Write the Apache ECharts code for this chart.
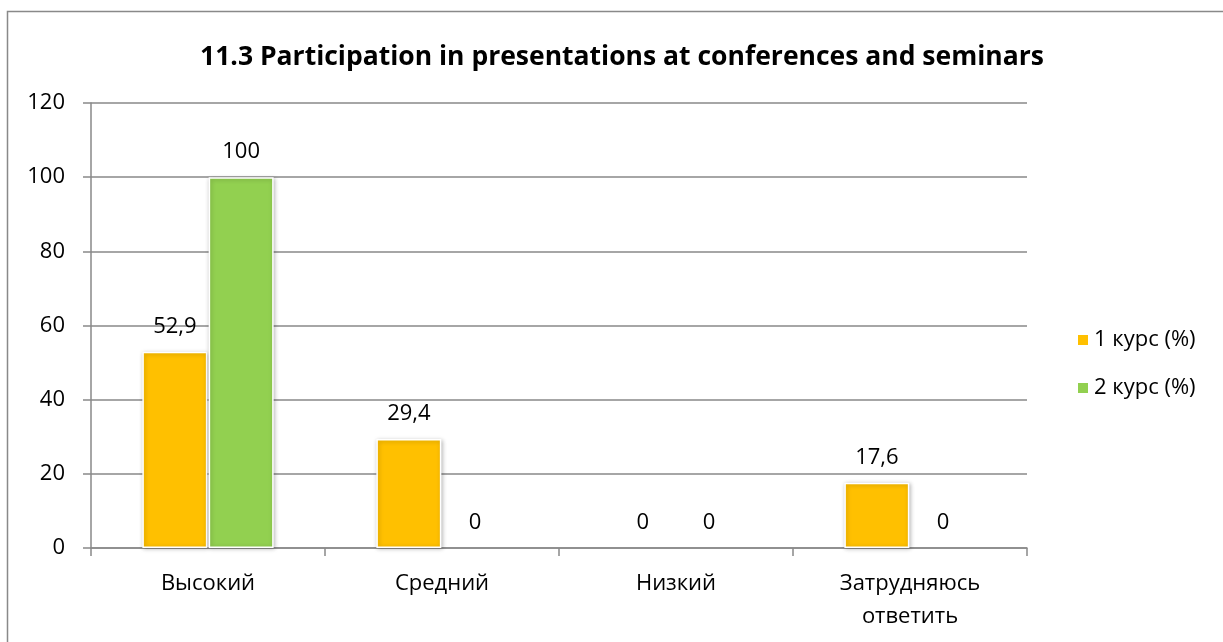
<!DOCTYPE html>
<html lang="ru">
<head>
    <meta charset="UTF-8"/>
    <script src="https://cdn.jsdelivr.net/npm/echarts@6/dist/echarts.min.js"></script>
    <title>11.3</title>
    <style>
        html, body { margin: 0; padding: 0; background: #fff; }
        #chart { width: 1223px; height: 642px; }
    </style>
</head>
<body>
<div id="chart"></div>
<script type="text/javascript">
    // данные
    var categories = ['Высокий', 'Средний', 'Низкий', 'Затрудняюсь\nответить'];
    var kurs1 = [52.9, 29.4, 0, 17.6];
    var kurs2 = [100, 0, 0, 0];
    var seriesNames = ['1 курс (%)', '2 курс (%)'];
    var yTicks = [0, 20, 40, 60, 80, 100, 120];

    var fontName = '"Open Sans", sans-serif';
    var fs = 22;

    function commaLabel(p) {
        return String(p.value).replace('.', ',');
    }

    // нулевые столбцы без рамки и тени
    function toBarData(arr) {
        return arr.map(function (v) {
            if (v === 0) {
                return { value: v, itemStyle: { borderWidth: 0, shadowBlur: 0, shadowColor: 'transparent' } };
            }
            return v;
        });
    }

    function barSeries(name, values, color) {
        return {
            name: name,
            type: 'bar',
            data: toBarData(values),
            barWidth: 65,
            barGap: '2%',
            itemStyle: {
                color: color,
                borderColor: '#fff',
                borderWidth: 1.5,
                shadowBlur: 4,
                shadowColor: 'rgba(0,0,0,0.25)',
                shadowOffsetX: 1,
                shadowOffsetY: 1
            },
            label: {
                show: true, position: 'top', distance: 14,
                fontSize: fs, color: '#000', fontFamily: fontName,
                formatter: commaLabel
            }
        };
    }

    var myChart = echarts.init(document.getElementById('chart'));
    var option = {
        backgroundColor: '#fff',
        animation: false,
        textStyle: { fontFamily: fontName },
        title: {
            text: '11.3 Participation in presentations at conferences and seminars',
            left: 617,
            textAlign: 'center',
            top: 39,
            textStyle: { fontSize: 26.5, fontWeight: 'bold', color: '#000', fontFamily: fontName }
        },
        graphic: [{
            type: 'rect',
            shape: { x: 7.5, y: 11.5, width: 1240, height: 700 },
            style: { fill: 'none', stroke: '#898989', lineWidth: 1.5 },
            silent: true
        }],
        legend: {
            orient: 'vertical',
            left: 1071,
            top: 324,
            itemWidth: 12,
            itemHeight: 12,
            itemGap: 26,
            icon: 'rect',
            textStyle: { fontSize: fs, color: '#000', fontFamily: fontName },
            data: seriesNames
        },
        grid: { left: 91, right: 196, top: 103, bottom: 94 },
        xAxis: {
            type: 'category',
            data: categories,
            axisLine: { lineStyle: { color: '#898989', width: 1.5 } },
            axisTick: { show: true, length: 8, lineStyle: { color: '#898989', width: 1.5 } },
            axisLabel: { fontSize: fs, color: '#000', margin: 19, lineHeight: 33, fontFamily: fontName }
        },
        yAxis: {
            type: 'value',
            min: yTicks[0],
            max: yTicks[yTicks.length - 1],
            interval: 20,
            axisLine: { show: true, lineStyle: { color: '#898989', width: 1.5 } },
            axisTick: { show: true, length: 8, lineStyle: { color: '#898989', width: 1.5 } },
            axisLabel: { fontSize: fs, color: '#000', margin: 26, fontFamily: fontName },
            splitLine: { lineStyle: { color: '#898989', width: 1.5 } }
        },
        series: [
            barSeries(seriesNames[0], kurs1, '#FFC000'),
            barSeries(seriesNames[1], kurs2, '#92D050')
        ]
    };
    myChart.setOption(option);
</script>
</body>
</html>
